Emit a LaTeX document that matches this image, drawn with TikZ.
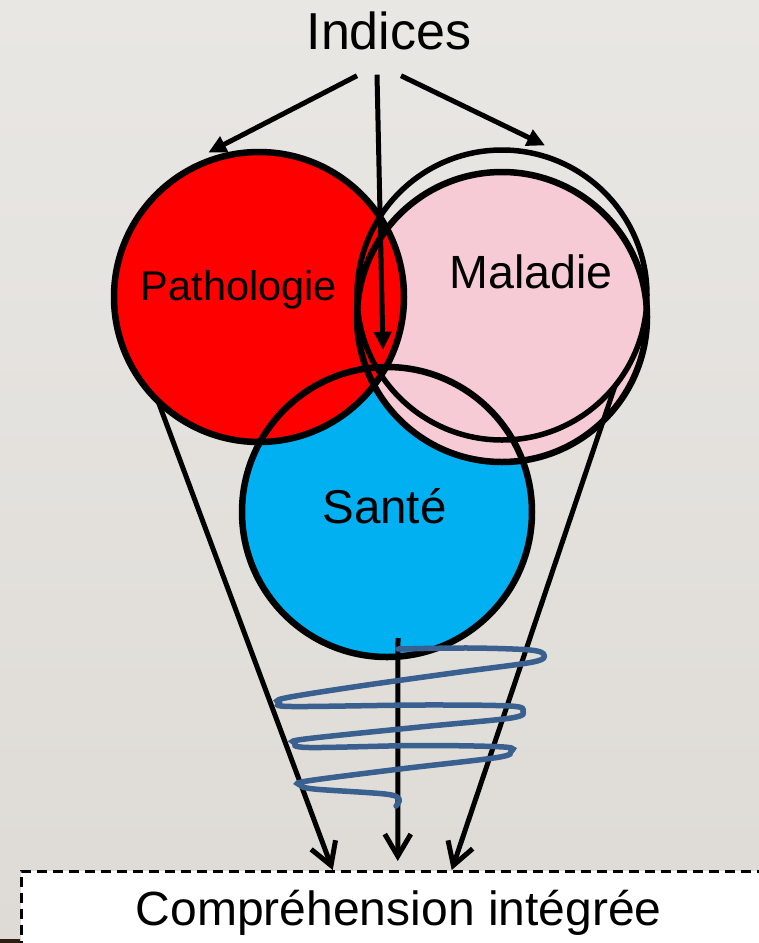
\documentclass[tikz,border=0pt]{standalone}
\usepackage{fontspec}
\setmainfont{Liberation Sans}
\usepackage{tikz}
\usetikzlibrary{arrows.meta, calc}
\definecolor{bgtop}{RGB}{233,231,228}
\definecolor{bgbot}{RGB}{222,219,214}
\definecolor{pred}{RGB}{255,0,0}
\definecolor{ppink}{RGB}{247,203,213}
\definecolor{pblue}{RGB}{0,176,240}
\definecolor{pspiral}{RGB}{58,96,143}
\definecolor{pdark}{RGB}{45,32,18}

\begin{document}
\begin{tikzpicture}[x=1pt, y=-1pt,
    disc/.style={circle, minimum size=290pt, inner sep=0pt, draw=none},
    ring/.style={line width=6.5pt},
    txt/.style={anchor=base, inner sep=0pt, font=\fontsize{#1pt}{#1pt}\selectfont},
    toparrow/.style={line width=5pt, -{Triangle[length=18pt,width=17pt]}},
    botarrow/.style={line width=5pt, -{Straight Barb[length=22pt,width=26pt]}},
    spiral/.style={draw=pspiral, line width=5.5pt, line cap=round}]
  \def\rad{145pt}
  % page
  \shade[top color=bgtop, bottom color=bgbot] (0,0) rectangle (759,943);
  \useasboundingbox (0,0) rectangle (759,943);
  \fill[pdark] (0,939) rectangle (20,943);

  % the three fields, back to front
  \node[disc, fill=pblue] (sante) at (387,512) {};
  \node[disc, fill=ppink] (maladie) at (502,317) {};
  \node[disc, fill=pred] (patho) at (259,297) {};
  \node[disc] (maladieb) at (502,295) {};
  \foreach \c in {sante, maladie, patho}
    \draw[ring] (\c.center) circle[radius=\rad];
  \draw[ring, line width=5.5pt] (maladieb.center) circle[radius=\rad];

  \node[txt=52] (indices) at (389,49) {Indices};
  \node[txt=41.5] (pathotxt) at (239,300) {Pathologie};
  \node[txt=46.6] (maladietxt) at (531,288) {Maladie};
  \node[txt=47.5] (santetxt) at (384.5,523) {Santé};

  \node[draw, fill=white, line width=2.5pt, dash pattern=on 10pt off 6pt,
        anchor=north west, minimum width=755pt, minimum height=84pt,
        inner sep=0pt, font=\fontsize{48pt}{48pt}\selectfont]
    (box) at (20,870) {Compréhension intégrée};

  % from the clues to the fields
  \draw[toparrow] ($(indices.south)+(-32,26)$) -- ($(patho.110)+(-1,-8)$);
  \draw[toparrow] ($(indices.south)+(-12,25)$) -- ($(sante.north)+(-4,-17)$);
  \draw[toparrow] ($(indices.south)+(12,26)$) -- ($(maladieb.74)+(3,-10)$);

  % down to the box
  \draw[botarrow] (patho.226) -- ($(box.north)+(-66,0)$);
  \draw[botarrow] ($(sante.south)+(11,-19)$) -- ($(box.north)+(-1,-9)$);
  \draw[botarrow] (maladieb.-39) -- ($(box.north)+(53,0)$);

  \draw[spiral] plot[smooth, tension=0.55] coordinates {
    (398,649) (470,648) (530,650) (544,655) (533,662) (460,672) (360,686)
    (285,698) (279,703) (292,706.5) (420,705) (510,706) (523,711) (511,718)
    (420,727) (305,739) (295,743) (309,747.5) (420,745.5) (504,747)
    (511,751.5) (497,757.5) (400,769) (307,781) (300,785) (314,789)
    (385,794) (399,799) (396,806)};
\end{tikzpicture}
\end{document}
